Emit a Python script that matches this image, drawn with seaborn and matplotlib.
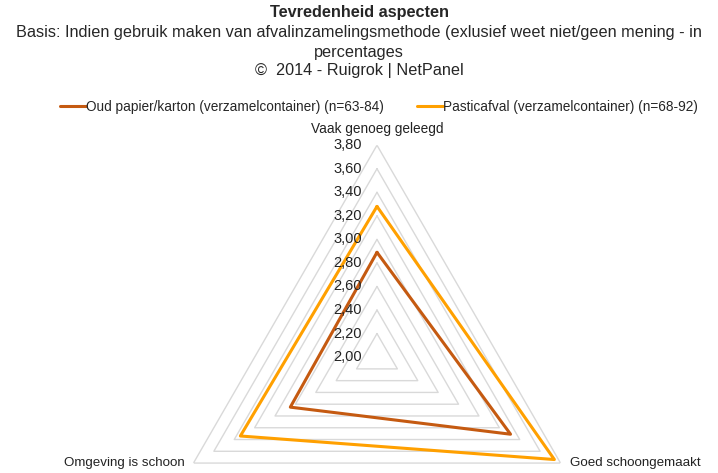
import numpy as np
import pandas as pd
import matplotlib
matplotlib.use("Agg")
import matplotlib.pyplot as plt
import seaborn as sns

# data
aspects = ["Vaak genoeg geleegd", "Goed schoongemaakt", "Omgeving is schoon"]
series = ["Oud papier/karton (verzamelcontainer) (n=63-84)",
          "Pasticafval (verzamelcontainer) (n=68-92)"]
oud_papier = [2.89, 3.31, 2.85]
plastic = [3.28, 3.74, 3.34]
ticks = [2.0, 2.2, 2.4, 2.6, 2.8, 3.0, 3.2, 3.4, 3.6, 3.8]
colors = ["#C55A11", "#FFA000"]

sns.set_theme(style="white")
plt.rcParams["font.family"] = ["Liberation Sans", "DejaVu Sans"]

angles = np.linspace(0, 2 * np.pi, len(aspects), endpoint=False)
closed = np.append(angles, angles[0] + 2 * np.pi)

rows = []
for name, vals in zip(series, [oud_papier, plastic]):
    for a, v in zip(closed, vals + vals[:1]):
        rows.append({"theta": a, "value": v, "serie": name})
df = pd.DataFrame(rows)

fig = plt.figure(figsize=(7.18, 4.73), dpi=100)
ax = fig.add_axes([0.2298, -0.203, 0.5905, 0.896], projection="polar")
ax.set_theta_zero_location("N")
ax.set_theta_direction(-1)

# polygon gridlines
for t in ticks[1:]:
    ax.plot(closed, [t] * len(closed), color="#d9d9d9", lw=1, zorder=1)

sns.lineplot(data=df, x="theta", y="value", hue="serie", palette=colors,
             sort=False, estimator=None, lw=2.2, ax=ax, zorder=3)

ax.set_ylim(2.0, 3.8)
ax.grid(False)
ax.spines["polar"].set_visible(False)
ax.set_xticks([])
ax.set_yticks([])
ax.set_xlabel("")
ax.set_ylabel("")

for t in ticks:
    ax.annotate(f"{t:.2f}".replace(".", ","), xy=(0, t), xytext=(-11, 0),
                textcoords="offset points", ha="right", va="center",
                fontsize=10.5, color="#222222")

ax.annotate(aspects[0], xy=(0, 3.8), xytext=(0, 12), textcoords="offset points",
            ha="center", va="center", fontsize=9.8, color="#222222", annotation_clip=False)
ax.annotate(aspects[1], xy=(angles[1], 3.8), xytext=(6.5, 0), textcoords="offset points",
            ha="left", va="center", fontsize=9.6, color="#222222", annotation_clip=False)
ax.annotate(aspects[2], xy=(angles[2], 3.8), xytext=(-6, 0), textcoords="offset points",
            ha="right", va="center", fontsize=9.6, color="#222222", annotation_clip=False)

handles, labels = ax.get_legend_handles_labels()
ax.legend_.remove()
fig.legend(handles, labels, loc="center", bbox_to_anchor=(379 / 718, 1 - 107 / 473),
           ncol=2, frameon=False, fontsize=9.8, handlelength=1.9, handletextpad=0.0,
           columnspacing=2.4)

fig.text(0.5, 1 - 13 / 473, "Tevredenheid aspecten", ha="center", va="center",
         fontsize=11.7, fontweight="bold")
fig.text(0.5, 1 - 33 / 473, "Basis: Indien gebruik maken van afvalinzamelingsmethode "
         "(exlusief weet niet/geen mening - in", ha="center", va="center", fontsize=11.7)
fig.text(0.5, 1 - 52 / 473, "percentages", ha="center", va="center", fontsize=11.7)
fig.text(0.5, 1 - 71 / 473, "\u00a9  2014 - Ruigrok | NetPanel", ha="center", va="center",
         fontsize=11.7)

fig.savefig("out.png", dpi=100)
